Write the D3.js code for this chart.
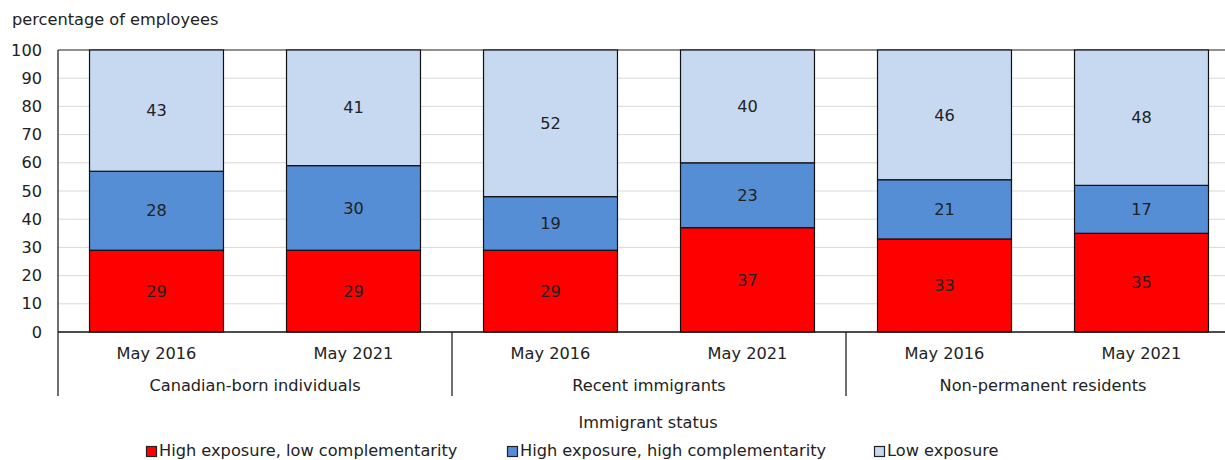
<!DOCTYPE html>
<html><head><meta charset="utf-8">
<script src="https://cdn.jsdelivr.net/npm/d3@7"></script>
<style>body{margin:0;background:#fff}svg{display:block}text{font-family:"DejaVu Sans",Verdana,sans-serif;fill:#222}</style>
</head><body>
<svg id="c" width="1225" height="460"></svg>
<script>
const groups = ["Canadian-born individuals","Recent immigrants","Non-permanent residents"];
const periods = ["May 2016","May 2021"];
const seriesNames = ["High exposure, low complementarity","High exposure, high complementarity","Low exposure"];
const highLow = [29,29,29,37,33,35];
const highHigh = [28,30,19,23,21,17];
const lowExp = [43,41,52,40,46,48];
const yTicks = [0,10,20,30,40,50,60,70,80,90,100];
const colors = ["#ff0000","#558ed5","#c6d9f1"];

(function(){
const svg = d3.select("#c");
const fs = 16.2;
const mLeft = 58, mRight = 1240, mTop = 50, mBottom = 332;
const cats = [];
groups.forEach((g,gi)=>periods.forEach((p,pi)=>cats.push({id:gi+"-"+pi,g,p})));
const x = d3.scaleBand().domain(cats.map(c=>c.id)).range([mLeft,mRight]).paddingInner(0.32).paddingOuter(0.16);
const y = d3.scaleLinear().domain([0,100]).range([mBottom,mTop]);

svg.append("g").selectAll("line").data(yTicks.filter(t=>t>0&&t<100)).join("line")
  .attr("x1",mLeft).attr("x2",1225).attr("y1",d=>y(d)).attr("y2",d=>y(d))
  .attr("stroke","#d9d9d9").attr("stroke-width",1);
svg.append("line").attr("x1",mLeft).attr("x2",1225).attr("y1",y(100)).attr("y2",y(100)).attr("stroke","#222").attr("stroke-width",1.2);

svg.append("g").selectAll("text").data(yTicks).join("text")
  .attr("x",42).attr("y",d=>y(d)).attr("dy","0.35em").attr("text-anchor","end")
  .style("font-size",fs+"px").text(d=>d);

const data = cats.map((c,i)=>({id:c.id,vals:[highLow[i],highHigh[i],lowExp[i]]}));
const stack = d3.stack().keys([0,1,2]).value((d,k)=>d.vals[k]);
const layers = stack(data);
layers.forEach((layer,li)=>{
  const g = svg.append("g");
  g.selectAll("rect").data(layer).join("rect")
    .attr("x",d=>x(d.data.id)).attr("width",x.bandwidth())
    .attr("y",d=>y(d[1])).attr("height",d=>y(d[0])-y(d[1]))
    .attr("fill",colors[li]).attr("stroke","#111").attr("stroke-width",1.2);
  g.selectAll("text").data(layer).join("text")
    .attr("x",d=>x(d.data.id)+x.bandwidth()/2).attr("y",d=>(y(d[0])+y(d[1]))/2).attr("dy","0.35em")
    .attr("text-anchor","middle").style("font-size",fs+"px").text(d=>d.data.vals[li]);
});

svg.append("line").attr("x1",mLeft).attr("x2",1225).attr("y1",mBottom).attr("y2",mBottom).attr("stroke","#111").attr("stroke-width",1.5);
svg.append("line").attr("x1",mLeft).attr("x2",mLeft).attr("y1",mTop).attr("y2",396).attr("stroke","#111").attr("stroke-width",1.2);
const step = x.step();
groups.forEach((g,gi)=>{
  const x0 = mLeft + gi*2*step;
  if(gi>0) svg.append("line").attr("x1",x0).attr("x2",x0).attr("y1",mBottom).attr("y2",396).attr("stroke","#111").attr("stroke-width",1.2);
  svg.append("text").attr("x",x0+step).attr("y",391).attr("text-anchor","middle").style("font-size",fs+"px").text(g);
});
svg.append("g").selectAll("text").data(cats).join("text")
  .attr("x",d=>x(d.id)+x.bandwidth()/2).attr("y",359).attr("text-anchor","middle").style("font-size",fs+"px").text(d=>d.p);

svg.append("text").attr("x",12).attr("y",25).style("font-size",fs+"px").text("percentage of employees");
svg.append("text").attr("x",648).attr("y",428).attr("text-anchor","middle").style("font-size",fs+"px").text("Immigrant status");

const legX = [146,507,874];
seriesNames.forEach((s,i)=>{
  svg.append("rect").attr("x",legX[i]+0.5).attr("y",446.5).attr("width",10).attr("height",10).attr("fill",colors[i]).attr("stroke","#222").attr("stroke-width",1.2);
  svg.append("text").attr("x",legX[i]+13).attr("y",455.5).style("font-size",fs+"px").text(s);
});
})();
</script>
</body></html>
